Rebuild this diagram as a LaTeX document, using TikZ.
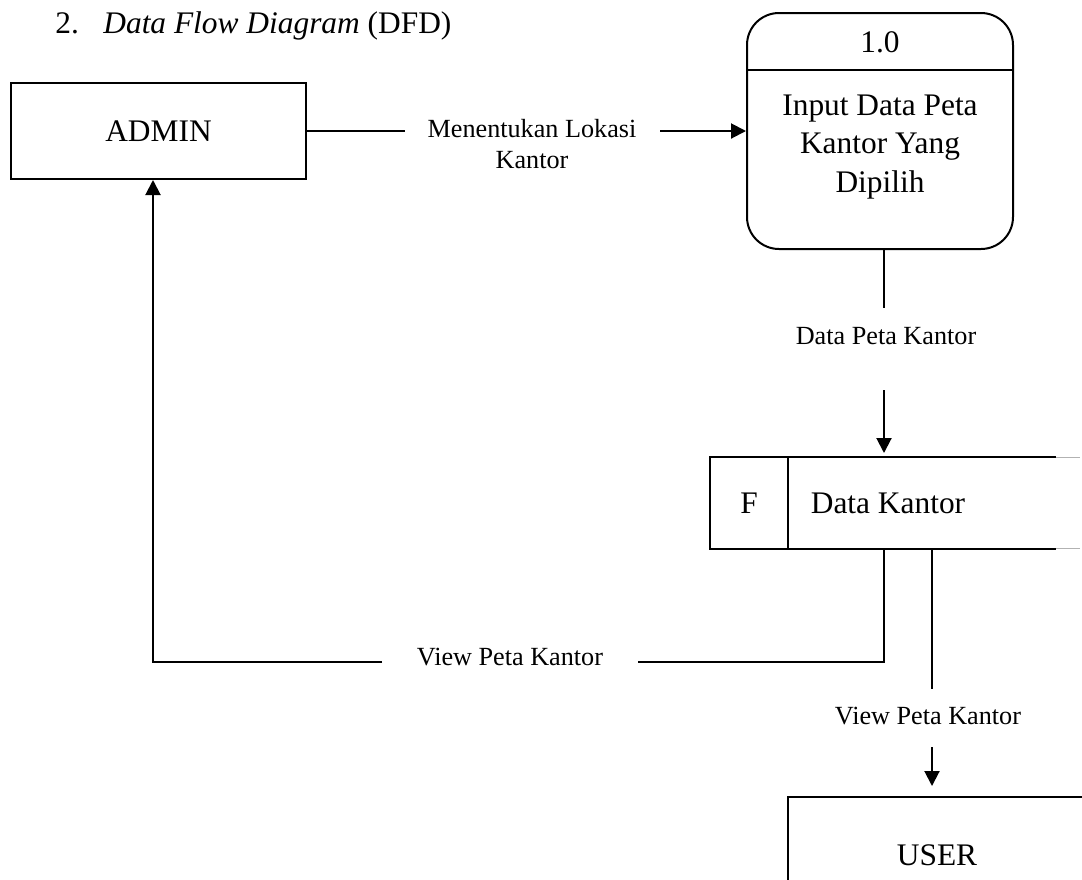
\documentclass[tikz,border=0pt]{standalone}
\usepackage{fontspec}
\setmainfont{Liberation Serif}
\usetikzlibrary{arrows.meta,positioning}

\tikzset{
  flow/.style={line width=1pt},
  arrowflow/.style={flow,-{Triangle[length=7.5pt,width=7.5pt]}},
  entity/.style={draw,line width=1pt,minimum width=147.5pt,minimum height=48pt,inner sep=0pt,font=\fontsize{15.7}{19.25}\selectfont},
  biglabel/.style={font=\fontsize{15.7}{19.25}\selectfont,inner sep=0pt},
  flowlabel/.style={font=\fontsize{13.1}{15.5}\selectfont,align=center,inner sep=0pt},
}

\begin{document}
\begin{tikzpicture}[x=0.5pt,y=-0.5pt]
	\useasboundingbox (0,0) rectangle (1082,879);
	
	% judul
	\node[biglabel,anchor=base west] (judul) at (55,33) {\makebox[24pt][l]{2.}\textit{Data Flow Diagram} (DFD)};
	
	% entitas luar
	\node[entity] (admin) at (158.5,131) {ADMIN};
	\node[entity,minimum width=149pt,minimum height=58pt] (user) at (937,855) {USER};
	
	% proses 1.0
	\node[draw,line width=1pt,rounded corners=16pt,minimum width=133pt,minimum height=118pt] (proses) at (880,131) {};
	\coordinate (garis) at (0,70);
	\draw[flow] (proses.west |- garis) -- (proses.east |- garis);
	\node[biglabel] (nomor) at (880,42) {1.0};
	\node[biglabel,align=center] (namaproses) at (880,147) {Input Data Peta\\Kantor Yang\\Dipilih};
	
	% data store
	\node[inner sep=0pt,minimum width=172.5pt,minimum height=45.5pt,anchor=north west] (store) at (710,457) {};
	\coordinate (sekat) at (788,0);
	\draw[flow] (store.north east) -- (store.north west) -- (store.south west) -- (store.south east);
	\draw[gray!60,line width=0.5pt] (store.north east) -- ++(24,0);
	\draw[gray!60,line width=0.5pt] (store.south east) -- ++(24,0);
	\draw[flow] (store.north -| sekat) -- (store.south -| sekat);
	\node[biglabel] (f) at (749,503) {F};
	\node[biglabel] (datakantor) at (888,503) {Data Kantor};
	
	% aliran data
	\coordinate (a1) at (405,131);
	\coordinate (a2) at (660,131);
	\draw[flow] (admin) -- (a1);
	\node[flowlabel] (lokasi) at (532,144) {Menentukan Lokasi\\Kantor};
	\draw[arrowflow] (a2) -- (proses);
	
	\coordinate (b1) at (884,308);
	\coordinate (b2) at (884,390);
	\draw[flow] (proses.south -| b1) -- (b1);
	\node[flowlabel] (datapeta) at (886,336) {Data Peta Kantor};
	\draw[arrowflow,shorten >=2pt] (b2) -- (store.north -| b2);
	
	\coordinate (c1) at (884,662);
	\coordinate (c2) at (638,662);
	\coordinate (c3) at (382,662);
	\coordinate (c4) at (153,662);
	\draw[flow] (store.south -| c1) -- (c1) -- (c2);
	\node[flowlabel] (view1) at (510,657) {View Peta Kantor};
	\draw[arrowflow] (c3) -- (c4) -- (admin.south -| c4);
	
	\coordinate (d1) at (932,689);
	\coordinate (d2) at (932,747);
	\draw[flow] (store.south -| d1) -- (d1);
	\node[flowlabel] (view2) at (928,716) {View Peta Kantor};
	\draw[arrowflow,shorten >=5pt] (d2) -- (user.north -| d2);
\end{tikzpicture}
\end{document}
